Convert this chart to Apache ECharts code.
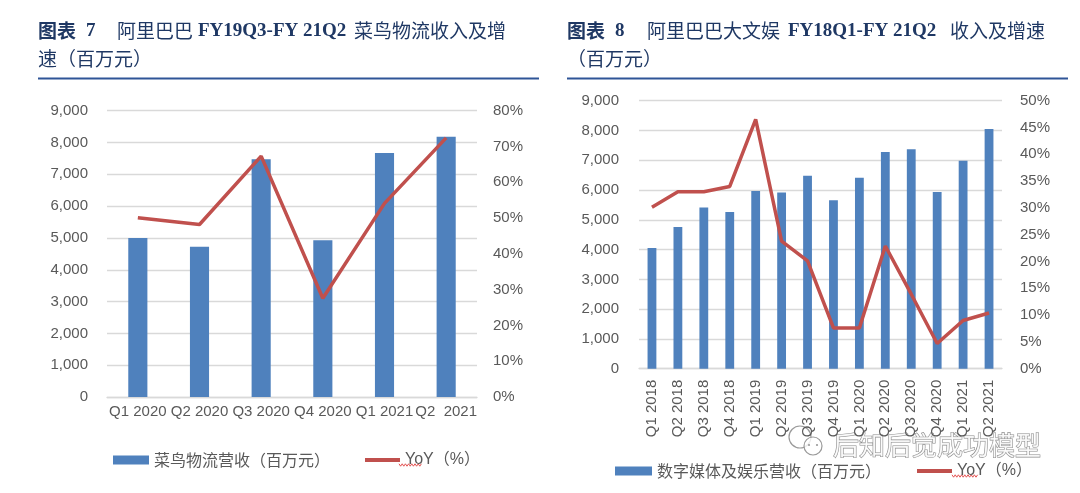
<!DOCTYPE html>
<html><head><meta charset="utf-8">
<script src="https://cdn.jsdelivr.net/npm/echarts@6/dist/echarts.min.js"></script>
<style>html,body{margin:0;padding:0;background:#fff}#c{width:1080px;height:493px}</style>
</head><body><div id="c"></div>
<script>
// ---- Data ----
const cainiaoCategories = ['Q1 2020', 'Q2 2020', 'Q3 2020', 'Q4 2020', 'Q1 2021', 'Q2  2021'];
const cainiaoRevenue = [5000, 4720, 7470, 4930, 7670, 8180];      // 百万元
const cainiaoYoY = [50.1, 48.2, 67.3, 27.6, 54.1, 72.4];           // %

const mediaCategories = ['Q1 2018', 'Q2 2018', 'Q3 2018', 'Q4 2018', 'Q1 2019', 'Q2 2019', 'Q3 2019',
  'Q4 2019', 'Q1 2020', 'Q2 2020', 'Q3 2020', 'Q4 2020', 'Q1 2021', 'Q2 2021'];
const mediaRevenue = [4050, 4760, 5410, 5260, 5970, 5920, 6480, 5660, 6410, 7280, 7370, 5930, 6980, 8050];
const mediaYoY = [30.1, 33.0, 33.0, 34.0, 46.5, 23.8, 20.1, 7.6, 7.6, 22.9, 13.9, 4.7, 9.0, 10.4];

const revenueAxis = { min: 0, max: 9000, interval: 1000 };
const cainiaoPctAxis = { min: 0, max: 80, interval: 10 };
const mediaPctAxis = { min: 0, max: 50, interval: 5 };

const legendBarName1 = '菜鸟物流营收（百万元）';
const legendBarName2 = '数字媒体及娱乐营收（百万元）';
const legendLineName = 'YoY（%）';

// ---- Styles ----
const BLUE = '#4F81BD', RED = '#C0504D', GRID = '#D9D9D9', LABEL = '#595959', NAVY = '#1F3864';
const SANS = '"Liberation Sans", Arial, sans-serif';
const CJK = '"Noto Sans CJK SC", sans-serif';
const SERIF = '"Liberation Serif", "Times New Roman", serif';

const chart = echarts.init(document.getElementById('c'), null, { renderer: 'canvas' });

function valueAxis(grid, cfg, fmt, margin, split) {
  return {
    type: 'value', gridIndex: grid, min: cfg.min, max: cfg.max, interval: cfg.interval,
    axisLine: { show: false }, axisTick: { show: false },
    axisLabel: { color: LABEL, fontSize: 15, fontFamily: SANS, margin: margin, formatter: fmt },
    splitLine: { show: split, lineStyle: { color: GRID, width: 1.3 } }
  };
}
const numFmt = v => v.toLocaleString('en-US');
const pctFmt = v => v + '%';

function zigzag(x0, x1, y) {
  const pts = []; let up = true;
  for (let x = x0; x <= x1; x += 1.6) { pts.push([x, y + (up ? -1.2 : 1.2)]); up = !up; }
  return { type: 'polyline', shape: { points: pts }, style: { stroke: '#E04040', lineWidth: 0.9, fill: null } };
}
function txt(x, y, text, font, extra) {
  return Object.assign({ type: 'text', x: x, y: y,
    style: Object.assign({ text: text, font: font, fill: NAVY, textVerticalAlign: 'middle', textAlign: 'left' }, extra || {}) });
}

const option = {
  backgroundColor: '#fff',
  animation: false,
  grid: [
    { left: 107, right: 603, top: 110.7, bottom: 96, containLabel: false },
    { left: 639, right: 78, top: 100.7, bottom: 124.3, containLabel: false }
  ],
  xAxis: [
    { type: 'category', gridIndex: 0, data: cainiaoCategories,
      axisLine: { show: true, lineStyle: { color: GRID, width: 1.3 } }, axisTick: { show: false },
      axisLabel: { interval: 0, color: LABEL, fontSize: 15, fontFamily: SANS, margin: 7 } },
    { type: 'category', gridIndex: 1, data: mediaCategories,
      axisLine: { show: true, lineStyle: { color: GRID, width: 1.3 } }, axisTick: { show: false },
      axisLabel: { interval: 0, rotate: 90, color: LABEL, fontSize: 15, fontFamily: SANS, margin: 11 } }
  ],
  yAxis: [
    valueAxis(0, revenueAxis, numFmt, 19, true),
    valueAxis(0, cainiaoPctAxis, pctFmt, 16, false),
    valueAxis(1, revenueAxis, numFmt, 20, true),
    valueAxis(1, mediaPctAxis, pctFmt, 18, false)
  ],
  legend: [
    { data: [legendBarName1], left: 108, top: 447, icon: 'rect', itemWidth: 36, itemHeight: 9,
      textStyle: { fontSize: 16, color: LABEL, fontFamily: CJK }, selectedMode: false },
    { data: [legendLineName], left: 360, top: 447, icon: 'rect', itemWidth: 35, itemHeight: 4, itemGap: 0,
      textStyle: { fontSize: 16, color: LABEL, fontFamily: SANS + ',' + CJK }, selectedMode: false },
    { data: [legendBarName2], left: 610, top: 458, icon: 'rect', itemWidth: 37, itemHeight: 9,
      textStyle: { fontSize: 16, color: LABEL, fontFamily: CJK }, selectedMode: false },
    { data: [legendLineName], left: 912, top: 458, icon: 'rect', itemWidth: 35, itemHeight: 4,
      textStyle: { fontSize: 16, color: LABEL, fontFamily: SANS + ',' + CJK }, selectedMode: false }
  ],
  series: [
    { name: legendBarName1, type: 'bar', xAxisIndex: 0, yAxisIndex: 0, data: cainiaoRevenue,
      barWidth: '31%', itemStyle: { color: BLUE } },
    { name: legendLineName, type: 'line', xAxisIndex: 0, yAxisIndex: 1, data: cainiaoYoY,
      symbol: 'none', lineStyle: { color: RED, width: 3.5 }, itemStyle: { color: RED } },
    { name: legendBarName2, type: 'bar', xAxisIndex: 1, yAxisIndex: 2, data: mediaRevenue,
      barWidth: '34%', itemStyle: { color: BLUE } },
    { name: legendLineName, type: 'line', xAxisIndex: 1, yAxisIndex: 3, data: mediaYoY,
      symbol: 'none', lineStyle: { color: RED, width: 3.5 }, itemStyle: { color: RED } }
  ],
  graphic: [
    // Left title
    txt(38, 31, '图表', 'bold 19px ' + CJK),
    txt(86, 31, '7', 'bold 19px ' + SERIF),
    txt(117, 31, '阿里巴巴', '19px ' + CJK),
    txt(198, 31, 'FY19Q3-FY 21Q2', 'bold 19px ' + SERIF),
    txt(354, 31, '菜鸟物流收入及增', '19px ' + CJK),
    txt(38, 59, '速（百万元）', '19px ' + CJK),
    { type: 'rect', shape: { x: 38, y: 77.5, width: 501, height: 2 }, style: { fill: '#2F5597' } },
    // Right title
    txt(567, 31, '图表', 'bold 19px ' + CJK),
    txt(615, 31, '8', 'bold 19px ' + SERIF),
    txt(647, 31, '阿里巴巴大文娱', '19px ' + CJK),
    txt(788, 31, 'FY18Q1-FY 21Q2', 'bold 19px ' + SERIF),
    txt(950, 31, '收入及增速', '19px ' + CJK),
    txt(567, 59, '（百万元）', '19px ' + CJK),
    { type: 'rect', shape: { x: 567, y: 77.5, width: 501, height: 2 }, style: { fill: '#2F5597' } },
    // spell-check squiggles under "YoY"
    zigzag(399, 423, 465),
    zigzag(952, 978, 476),
    // watermark
    { type: 'circle', shape: { cx: 800, cy: 437, r: 11 }, style: { fill: 'rgba(255,255,255,0.6)', stroke: '#9a9a9a', lineWidth: 1.2 } },
    { type: 'circle', shape: { cx: 813, cy: 446, r: 9 }, style: { fill: 'rgba(255,255,255,0.8)', stroke: '#9a9a9a', lineWidth: 1.2 } },
    { type: 'circle', shape: { cx: 809, cy: 445, r: 1.1 }, style: { fill: '#9a9a9a' } },
    { type: 'circle', shape: { cx: 817, cy: 445, r: 1.1 }, style: { fill: '#9a9a9a' } },
    txt(833, 445, '后知后觉成功模型', '26px ' + CJK, { fill: 'rgba(255,255,255,0.85)', stroke: '#8a8a8a', lineWidth: 1.1 })
  ]
};
chart.setOption(option);
</script>
</body></html>
